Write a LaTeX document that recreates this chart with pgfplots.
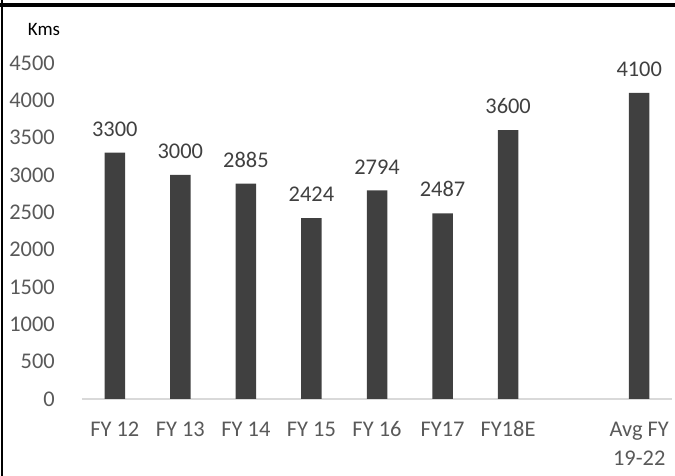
\documentclass[border=0pt]{standalone}
\usepackage{fontspec}
\setmainfont{Carlito}
\usepackage{pgfplots}
\pgfplotsset{compat=1.18}
\definecolor{bargray}{HTML}{404040}
\definecolor{ticktext}{HTML}{595959}
\definecolor{baseline}{HTML}{D9D9D9}
\begin{document}
\begin{tikzpicture}[x=1bp,y=1bp]
\path[use as bounding box] (-82,-77) rectangle (593,399);
\begin{axis}[
    at={(0,0)}, anchor=south west,
    scale only axis,
    width=590bp, height=336bp,
    ybar,
    bar width=20.5bp,
    xmin=-0.5, xmax=8.5,
    ymin=0, ymax=4500,
    clip=false,
    axis x line*=bottom,
    axis y line*=left,
    x axis line style={-, draw=baseline, line width=1.5bp},
    y axis line style={draw=none},
    major tick length=0,
    xtick={0,1,2,3,4,5,6,8},
    xticklabels={FY 12,FY 13,FY 14,FY 15,FY 16,FY17,FY18E,{\begin{tabular}[t]{@{}c@{}}Avg FY\\19-22\end{tabular}}},
    ytick={0,500,...,4500},
    /pgf/number format/assume math mode=true,
    /pgf/number format/1000 sep={},
    xticklabel style={font=\fontsize{22.5}{29}\selectfont, text=ticktext, anchor=base, inner sep=0, yshift=-38bp},
    yticklabel style={font=\fontsize{22.5}{29}\selectfont, text=ticktext, anchor=east, inner sep=0, xshift=-27bp},
]
\addplot[fill=bargray, draw=none,
    nodes near coords,
    nodes near coords style={font=\fontsize{22.5}{29}\selectfont, text=bargray, anchor=south, inner sep=0, yshift=16bp}]
    coordinates {(0,3300) (1,3000) (2,2885) (3,2424) (4,2794) (5,2487) (6,3600) (8,4100)};
\end{axis}
\draw[line width=4bp] (-82,394) -- (593,394);
\draw[line width=2.5bp] (-80,399) -- (-80,-77);
\node[font=\fontsize{19}{23}\selectfont] at (-38,369) {Kms};
\end{tikzpicture}
\end{document}
